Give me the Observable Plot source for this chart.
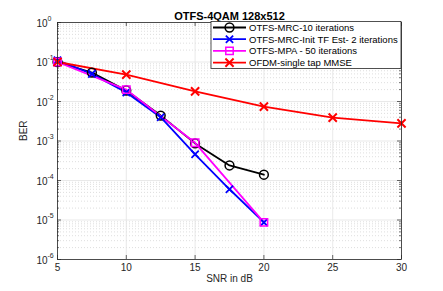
<!DOCTYPE html>
<html><head><meta charset="utf-8">
<script src="https://cdn.jsdelivr.net/npm/d3@7"></script>
<script src="https://cdn.jsdelivr.net/npm/@observablehq/plot@0.6"></script>
<style>body{margin:0;background:#fff;font-family:"Liberation Sans",Arial,sans-serif}</style>
</head><body><div id="chart"></div><script>
const snrMRC = [5, 7.5, 10, 12.5, 15, 17.5, 20];
const berMRC = [0.1, 0.054, 0.019, 0.0044, 0.00087, 0.00024, 0.00014];
const snrInit = [5, 7.5, 10, 12.5, 15, 17.5, 20];
const berInit = [0.11, 0.05, 0.017, 0.004, 0.00046, 0.00006, 0.0000087];
const snrMPA = [5, 10, 15, 20];
const berMPA = [0.1, 0.02, 0.0009, 0.0000087];
const snrOFDM = [5, 10, 15, 20, 25, 30];
const berOFDM = [0.1, 0.048, 0.018, 0.0074, 0.0039, 0.0028];
const seriesNames = ["OTFS-MRC-10 iterations", "OTFS-MRC-Init TF Est- 2 iterations", "OTFS-MPA - 50 iterations", "OFDM-single tap MMSE"];
const xTicks = [5, 10, 15, 20, 25, 30];
const yExponents = [-6, -5, -4, -3, -2, -1, 0];
const title = "OTFS-4QAM 128x512";
const xLabel = "SNR in dB";
const yLabel = "BER";

const colors = ["#000000", "#0000ff", "#ff00ff", "#ff0000"];
const symbols = ["circle", "times", "square", "times"];
const radii = [4.4, 3.4, 4.2, 3.8];
const markWidth = [1.5, 1.8, 1.5, 2];

const series = [[snrMRC, berMRC], [snrInit, berInit], [snrMPA, berMPA], [snrOFDM, berOFDM]];
const data = series.flatMap(([xs, ys], i) => xs.map((x, j) => ({s: i, x, y: ys[j]})));
const yTicks = yExponents.map(e => Math.pow(10, e));
const yMinor = yExponents.slice(0, -1).flatMap(e => d3.range(2, 10).map(k => k * Math.pow(10, e)));

const W = 443, H = 291, mL = 57, mR = 42, mT = 22, mB = 32;
const pw = W - mL - mR, ph = H - mT - mB;
const axisColor = "#262626";

const marks = [
  Plot.ruleY(yMinor, {y: d => d, stroke: "#d0d0d0", strokeDasharray: "1,2", strokeWidth: 0.7}),
  Plot.ruleY(yTicks, {y: d => d, stroke: "#e3e3e3", strokeWidth: 0.8}),
  Plot.ruleX(xTicks, {x: d => d, stroke: "#e3e3e3", strokeWidth: 0.8}),
  Plot.tickX(xTicks, {x: d => d, stroke: axisColor, strokeWidth: 0.7, insetTop: ph - 4}),
  Plot.tickX(xTicks, {x: d => d, stroke: axisColor, strokeWidth: 0.7, insetBottom: ph - 4}),
  Plot.tickY(yTicks, {y: d => d, stroke: axisColor, strokeWidth: 0.7, insetRight: pw - 4}),
  Plot.tickY(yTicks, {y: d => d, stroke: axisColor, strokeWidth: 0.7, insetLeft: pw - 4}),
  Plot.tickY(yMinor, {y: d => d, stroke: axisColor, strokeWidth: 0.6, insetRight: pw - 2}),
  Plot.tickY(yMinor, {y: d => d, stroke: axisColor, strokeWidth: 0.6, insetLeft: pw - 2}),
  ...series.map((_, i) => Plot.line(data.filter(d => d.s === i), {x: "x", y: "y", stroke: colors[i], strokeWidth: 1.8})),
  ...series.map((_, i) => Plot.dot(data.filter(d => d.s === i), {x: "x", y: "y", stroke: colors[i], symbol: symbols[i], r: radii[i], strokeWidth: markWidth[i], fill: "none"})),
  Plot.frame({stroke: axisColor, strokeWidth: 0.8}),
  Plot.text(xTicks, {x: d => d, text: d => String(d), frameAnchor: "bottom", dy: 11, fontSize: 10, fill: axisColor}),
  Plot.text(yTicks, {y: d => d, text: () => "10", frameAnchor: "left", dx: -10, dy: 1, textAnchor: "end", fontSize: 10, fill: axisColor}),
  Plot.text(yExponents, {y: (d) => Math.pow(10, d), text: d => String(d), frameAnchor: "left", dx: -10, dy: -4, textAnchor: "start", fontSize: 7, fill: axisColor}),
  Plot.text([title], {text: d => d, frameAnchor: "top", dy: -10, fontSize: 11, fontWeight: "bold", fill: "#000"}),
  Plot.text([xLabel], {text: d => d, frameAnchor: "bottom", dy: 22, fontSize: 10, fill: axisColor}),
  Plot.text([yLabel], {text: d => d, frameAnchor: "left", dx: -34, rotate: -90, fontSize: 10, fill: axisColor})
];

const chart = Plot.plot({
  width: W, height: H,
  marginLeft: mL, marginRight: mR, marginTop: mT, marginBottom: mB,
  style: {fontFamily: '"Liberation Sans", Arial, sans-serif', background: "#fff", overflow: "visible"},
  x: {domain: [5, 30], axis: null},
  y: {type: "log", domain: [1e-6, 1], axis: null},
  marks
});
document.getElementById("chart").appendChild(chart);

// legend
const svg = d3.select(chart);
const lg = svg.append("g")
  .attr("font-family", '"Liberation Sans", Arial, sans-serif')
  .attr("font-size", 9.5)
  .attr("text-anchor", "start");
const lx = 211, ly = 21.5, lw = 190, lh = 47;
lg.append("rect").attr("x", lx).attr("y", ly).attr("width", lw).attr("height", lh)
  .style("fill", "#ffffff").style("stroke", axisColor).style("stroke-width", "0.8px");
const d3sym = {circle: d3.symbolCircle, times: d3.symbolTimes, square: d3.symbolSquare};
seriesNames.forEach((name, i) => {
  const y = 27.5 + i * 11.7;
  lg.append("line").attr("x1", 213).attr("x2", 246).attr("y1", y).attr("y2", y)
    .style("stroke", colors[i]).style("stroke-width", "1.8px");
  lg.append("path").attr("transform", `translate(229.5,${y})`)
    .attr("d", d3.symbol(d3sym[symbols[i]], Math.PI * radii[i] * radii[i])())
    .style("fill", "none").style("stroke", colors[i]).style("stroke-width", markWidth[i] + "px");
  lg.append("text").attr("x", 249).attr("y", y).attr("dy", "0.35em")
    .style("fill", "#000").style("text-anchor", "start").style("font-size", "9.5px").text(name);
});
</script></body></html>
